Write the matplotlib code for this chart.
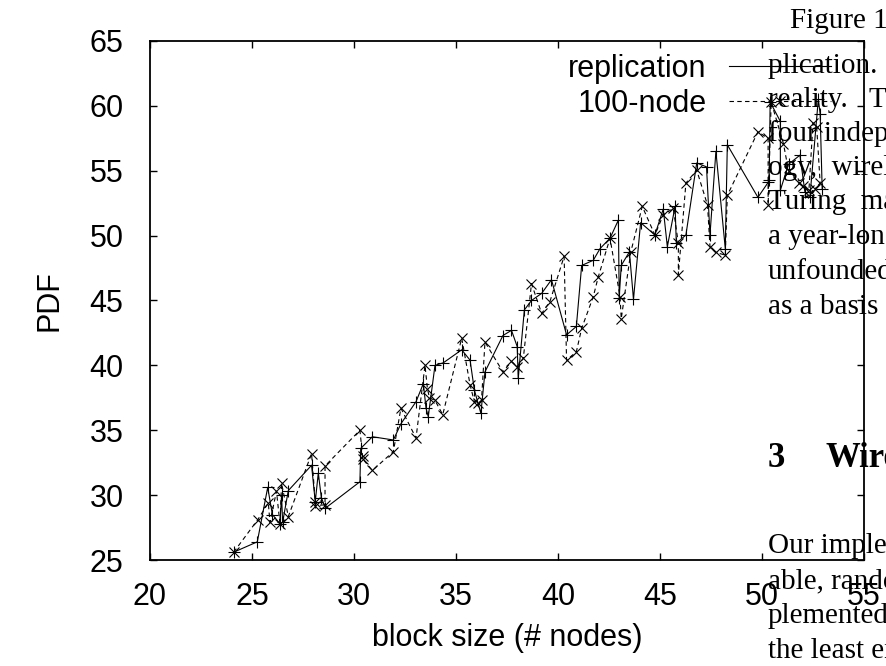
"""Block size vs PDF: replication against 100-node, gnuplot-style figure
sitting inside a two-column paper page (the page text overlaps on the right)."""

import matplotlib

matplotlib.use("Agg")
import matplotlib.pyplot as plt  # noqa: E402

OUT_FILE = "out.png"

# replication (solid line, "+" points)
REPL_X = [24.1, 25.26, 25.77, 26.0, 26.37, 26.45, 26.5, 26.78, 27.92, 28.1,
          28.25, 28.4, 28.6, 30.29, 30.33, 30.9, 31.93, 32.3, 33.04, 33.4,
          33.53, 33.64, 33.97, 34.38, 35.28, 35.69, 35.9, 36.22, 36.42, 37.3,
          37.72, 38.0, 38.05, 38.35, 38.7, 39.2, 39.68, 40.42, 40.9, 41.16,
          41.73, 42.06, 42.55, 42.96, 43.0, 43.1, 43.5, 43.7, 44.05, 44.75,
          45.16, 45.36, 45.74, 45.8, 46.27, 46.8, 47.28, 47.45, 47.74, 48.2,
          48.3, 49.8, 50.3, 50.35, 50.4, 50.9, 50.9, 51.3, 51.86, 52.1,
          52.35, 52.76, 52.85, 52.95]
REPL_Y = [25.6, 26.4, 30.6, 28.5, 27.8, 30.0, 27.9, 30.35, 32.3, 29.5,
          31.7, 29.8, 29.0, 31.03, 33.6, 34.5, 34.25, 35.5, 37.2, 38.6,
          36.7, 36.05, 40.0, 40.2, 41.2, 40.4, 38.1, 36.3, 39.5, 42.3,
          42.7, 41.45, 39.0, 44.27, 45.0, 45.55, 46.6, 42.35, 43.0, 47.7,
          48.1, 49.0, 49.8, 51.2, 45.2, 47.7, 48.75, 45.1, 51.0, 50.05,
          52.05, 49.15, 52.25, 49.4, 50.05, 55.6, 55.3, 50.05, 56.5, 49.0,
          57.0, 52.95, 54.1, 54.3, 60.3, 58.8, 53.5, 55.5, 56.2, 53.4,
          53.0, 60.5, 59.4, 53.6]

# 100-node (dashed line, "x" points)
NODE_X = [24.1, 25.28, 25.8, 25.88, 26.2, 26.37, 26.45, 26.78, 27.92, 28.1,
          28.1, 28.58, 28.58, 30.29, 30.42, 30.42, 30.9, 31.93, 32.3, 33.04,
          33.48, 33.6, 33.7, 33.97, 34.35, 35.28, 35.69, 35.9, 36.1, 36.25,
          36.42, 37.3, 37.72, 38.0, 38.3, 38.7, 39.2, 39.6, 40.3, 40.42,
          40.9, 41.16, 41.73, 41.97, 42.55, 43.04, 43.1, 43.57, 44.13, 44.75,
          45.16, 45.65, 45.9, 45.9, 46.27, 46.8, 47.33, 47.45, 47.74, 48.2,
          48.3, 49.8, 50.3, 50.3, 50.45, 51.05, 51.3, 51.8, 52.0, 52.3,
          52.5, 52.68, 52.85, 52.6]
NODE_Y = [25.6, 28.1, 29.4, 27.9, 30.3, 27.8, 30.9, 28.35, 33.2, 29.5,
          29.2, 29.25, 32.25, 35.0, 33.0, 32.8, 31.9, 33.35, 36.7, 34.4,
          40.0, 38.2, 37.5, 37.3, 36.2, 42.1, 38.5, 37.2, 37.1, 37.3,
          41.8, 39.5, 40.3, 39.9, 40.55, 46.3, 44.0, 44.9, 48.4, 40.4,
          41.05, 42.85, 45.3, 46.8, 49.8, 45.3, 43.6, 48.75, 52.25, 50.05,
          51.6, 52.1, 49.4, 47.0, 54.05, 55.05, 52.35, 49.15, 48.7, 48.5,
          53.1, 58.0, 57.5, 52.35, 60.3, 57.1, 55.0, 54.05, 53.8, 53.5,
          58.65, 58.4, 54.05, 53.6]

X_TICKS = [20, 25, 30, 35, 40, 45, 50, 55]
Y_TICKS = [25, 30, 35, 40, 45, 50, 55, 60, 65]

# page text around the figure: (x px, baseline y px, text, weight, size)
PAGE_LINES = [
    (790, 28, "Figure 1 depicts", "normal", 21),
    (768, 73, "plication.  We", "normal", 21),
    (768, 107, "reality.   The", "normal", 21),
    (768, 141, "four independent", "normal", 21),
    (768, 175, "ogy,  wireless", "normal", 21),
    (768, 209, "Turing  machine", "normal", 21),
    (768, 244, "a year-long trace", "normal", 21),
    (768, 279, "unfounded.", "normal", 21),
    (768, 314, "as a basis for", "normal", 21),
    (768, 467, "3", "bold", 25),
    (825, 467, "Wireless", "bold", 25),
    (768, 553, "Our implementation", "normal", 21),
    (768, 588, "able, random", "normal", 21),
    (768, 623, "plemented", "normal", 21),
    (768, 658, "the least energy", "normal", 21),
]

SANS = ["Liberation Sans", "DejaVu Sans"]
SERIF = ["Liberation Serif", "DejaVu Serif"]
FS = 22
DPI = 100


def plot() -> None:
    plt.rcParams["font.family"] = SANS
    fig = plt.figure(figsize=(8.86, 6.66), dpi=DPI)
    W, H = 886, 666
    ax = fig.add_axes([150 / W, 1 - 560 / H, (864 - 150) / W, (560 - 41) / H])

    ax.plot(REPL_X, REPL_Y, "-", color="black", lw=0.8, marker="+",
            ms=8, mew=0.8, label="replication")
    ax.plot(NODE_X, NODE_Y, "--", color="black", lw=0.8, marker="x",
            ms=7, mew=0.8, dashes=(4, 3), label="100-node")

    ax.set_xlim(20, 55)
    ax.set_ylim(25, 65)
    ax.set_xticks(X_TICKS)
    ax.set_yticks(Y_TICKS)
    ax.tick_params(direction="in", length=5, width=1, top=True, right=True,
                   labelsize=FS)
    ax.tick_params(axis="x", pad=16)
    ax.tick_params(axis="y", pad=19)
    for s in ax.spines.values():
        s.set_linewidth(1.3)
    ax.set_xlabel("block size (# nodes)", fontsize=FS, labelpad=8)
    ax.set_ylabel("PDF", fontsize=FS, labelpad=18)

    leg = ax.legend(loc="upper right", bbox_to_anchor=(0.954, 0.975),
                    frameon=False, fontsize=FS, markerfirst=False,
                    handlelength=3.33, handletextpad=0.75, labelspacing=0.15,
                    borderpad=0, borderaxespad=0, numpoints=1)
    # gnuplot right-aligns the key labels against the samples
    fig.canvas.draw()
    texts = leg.get_texts()
    rights = [t.get_window_extent().x1 for t in texts]
    for t, r in zip(texts, rights):
        t.set_position(((max(rights) - r) * 72 / DPI, 0))

    for x, y, txt, weight, size in PAGE_LINES:
        fig.text(x / W, 1 - y / H, txt, family=SERIF, fontsize=size,
                 fontweight=weight, ha="left", va="baseline", zorder=10)

    fig.savefig(OUT_FILE, dpi=DPI)
    plt.close(fig)


def main() -> None:
    plot()


if __name__ == "__main__":
    main()
